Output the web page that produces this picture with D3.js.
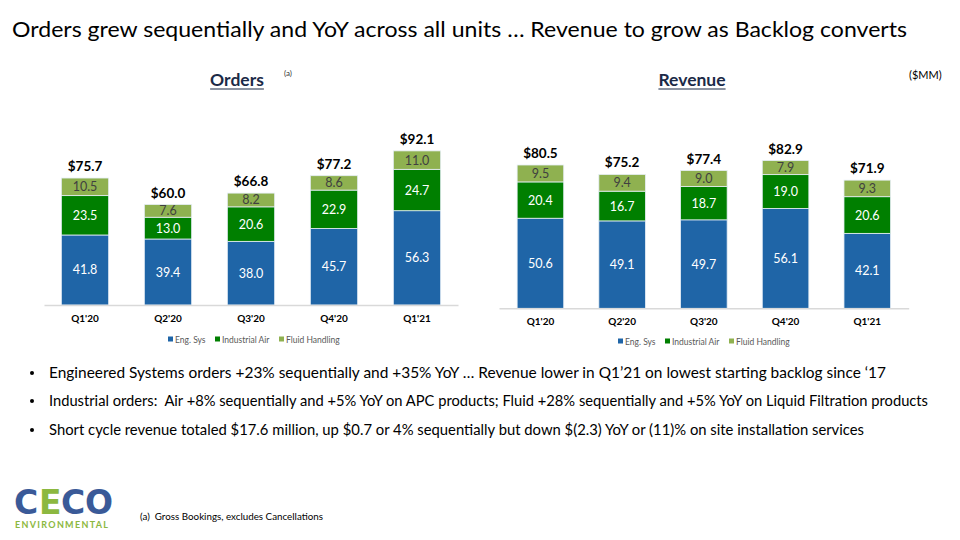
<!DOCTYPE html>
<html><head><meta charset="utf-8">
<script src="https://cdn.jsdelivr.net/npm/d3@7"></script>
<style>
body{margin:0;background:#fff;}
svg{display:block;font-family:Lato,"Open Sans",sans-serif;}
text{white-space:pre;}
</style></head>
<body>
<svg id="c" width="960" height="540"></svg>
<script>
const quarters = ["Q1'20","Q2'20","Q3'20","Q4'20","Q1'21"];
const seriesNames = ["Eng. Sys","Industrial Air","Fluid Handling"];
const ordersEng = [41.8,39.4,38.0,45.7,56.3];
const ordersAir = [23.5,13.0,20.6,22.9,24.7];
const ordersFluid = [10.5,7.6,8.2,8.6,11.0];
const ordersTotal = ["$75.7","$60.0","$66.8","$77.2","$92.1"];
const revEng = [50.6,49.1,49.7,56.1,42.1];
const revAir = [20.4,16.7,18.7,19.0,20.6];
const revFluid = [9.5,9.4,9.0,7.9,9.3];
const revTotal = ["$80.5","$75.2","$77.4","$82.9","$71.9"];
const bullets = [
 "Engineered Systems orders +23% sequentially and +35% YoY \u2026 Revenue lower in Q1\u201921 on lowest starting backlog since \u201817",
 "Industrial orders:  Air +8% sequentially and +5% YoY on APC products; Fluid +28% sequentially and +5% YoY on Liquid Filtration products",
 "Short cycle revenue totaled $17.6 million, up $0.7 or 4% sequentially but down $(2.3) YoY or (11)% on site installation services"
];
const bulletEnds = [886, 928, 864];

const colors = ["#1f65a7","#007f00","#8fb150"];
const labelColors = ["#ffffff","#ffffff","#404040"];
const svg = d3.select("#c");

// main title
svg.append("text").attr("x",12).attr("y",37).attr("font-size",22).attr("fill","#000")
  .attr("textLength",895).attr("lengthAdjust","spacingAndGlyphs")
  .text("Orders grew sequentially and YoY across all units \u2026 Revenue to grow as Backlog converts");

function drawChart(cfg){
  const g = svg.append("g");
  const x = d3.scaleBand().domain(quarters).range([cfg.x0,cfg.x1]).paddingInner(0.43).paddingOuter(cfg.po);
  const y = d3.scaleLinear().domain([0,100]).range([cfg.base,cfg.top]);
  const data = quarters.map((q,i)=>({q, Eng:cfg.eng[i], Air:cfg.air[i], Fluid:cfg.fluid[i], total:cfg.total[i]}));
  const stack = d3.stack().keys(["Eng","Air","Fluid"])(data);
  stack.forEach((layer,k)=>{
    g.selectAll(null).data(layer).enter().append("rect")
      .attr("x",d=>x(d.data.q)).attr("width",x.bandwidth())
      .attr("y",d=>y(d[1])).attr("height",d=>y(d[0])-y(d[1]))
      .attr("fill",colors[k]).attr("stroke","#e6eef6").attr("stroke-width",0.8);
    g.selectAll(null).data(layer).enter().append("text")
      .attr("x",d=>x(d.data.q)+x.bandwidth()/2).attr("y",d=>(y(d[0])+y(d[1]))/2+4.5)
      .attr("text-anchor","middle").attr("font-size",12.5).attr("fill",labelColors[k])
      .text(d=>(d[1]-d[0]).toFixed(1));
  });
  g.selectAll(null).data(stack[2]).enter().append("text")
    .attr("x",d=>x(d.data.q)+x.bandwidth()/2).attr("y",d=>y(d[1])-7)
    .attr("text-anchor","middle").attr("font-size",13.5).attr("font-weight","bold").attr("fill","#000")
    .text(d=>d.data.total);
  // axis
  const ax = g.append("g").attr("transform",`translate(0,${cfg.base})`).call(d3.axisBottom(x).tickSize(0).tickPadding(10));
  ax.select(".domain").attr("stroke","#d9d9d9").attr("stroke-width",1.5);
  ax.selectAll("text").attr("font-size",10).attr("font-weight","bold").attr("fill","#000").attr("font-family","Lato,sans-serif");
  // title
  const t = g.append("text").attr("x",cfg.tx).attr("y",86).attr("text-anchor","middle")
    .attr("font-size",17.5).attr("font-weight","bold").attr("fill","#1b2a47").text(cfg.title);
  const w = t.node().getComputedTextLength();
  g.append("line").attr("x1",cfg.tx-w/2).attr("x2",cfg.tx+w/2).attr("y1",89).attr("y2",89)
    .attr("stroke","#1b2a47").attr("stroke-width",1.2);
  // legend
  const lg = g.append("g").attr("transform",`translate(${cfg.lx},${cfg.ly})`);
  const offs = [0,47,111];
  seriesNames.forEach((n,k)=>{
    lg.append("rect").attr("x",offs[k]).attr("y",-3.5).attr("width",5).attr("height",5).attr("fill",colors[k]);
    lg.append("text").attr("x",offs[k]+7).attr("y",2.5).attr("font-size",8.5).attr("fill","#595959").text(n);
  });
  return g;
}

drawChart({x0:44,x1:458,po:0.209,base:305,top:137.5,eng:ordersEng,air:ordersAir,fluid:ordersFluid,total:ordersTotal,title:"Orders",tx:237,lx:168,ly:340});
drawChart({x0:499,x1:908.7,po:0.222,base:308.3,top:130.3,eng:revEng,air:revAir,fluid:revFluid,total:revTotal,title:"Revenue",tx:692,lx:618,ly:342});

svg.append("text").attr("x",284).attr("y",76).attr("font-size",8).attr("fill","#333").text("(a)");
svg.append("text").attr("x",909).attr("y",79).attr("font-size",11).attr("fill","#000").text("($MM)");

// bullets
const by = [378,406,435];
bullets.forEach((b,i)=>{
  svg.append("circle").attr("cx",32).attr("cy",by[i]-5).attr("r",2).attr("fill","#000");
  svg.append("text").attr("x",49).attr("y",by[i]).attr("font-size",15).attr("fill","#000")
    .attr("textLength",bulletEnds[i]-49).attr("lengthAdjust","spacingAndGlyphs").text(b);
});

// footnote
svg.append("text").attr("x",140).attr("y",520).attr("font-size",9.5).attr("fill","#000")
  .attr("textLength",183).attr("lengthAdjust","spacingAndGlyphs")
  .text("(a)  Gross Bookings, excludes Cancellations");

// logo
const logo = svg.append("g");
const letters = ["C","E","C","O"], lcol = ["#3a5a98","#8cb840","#3a5a98","#3a5a98"];
const lx = [14,39,61,85];
letters.forEach((l,i)=>{
  logo.append("text").attr("x",lx[i]).attr("y",514).attr("font-size",33).attr("font-weight",900)
    .attr("font-family","'DejaVu Sans',sans-serif").attr("fill",lcol[i]).text(l);
});
logo.append("text").attr("x",15).attr("y",528).attr("font-size",9).attr("font-weight","bold")
  .attr("fill","#8cb840").attr("textLength",93).attr("lengthAdjust","spacing").text("ENVIRONMENTAL");
</script>
</body></html>
